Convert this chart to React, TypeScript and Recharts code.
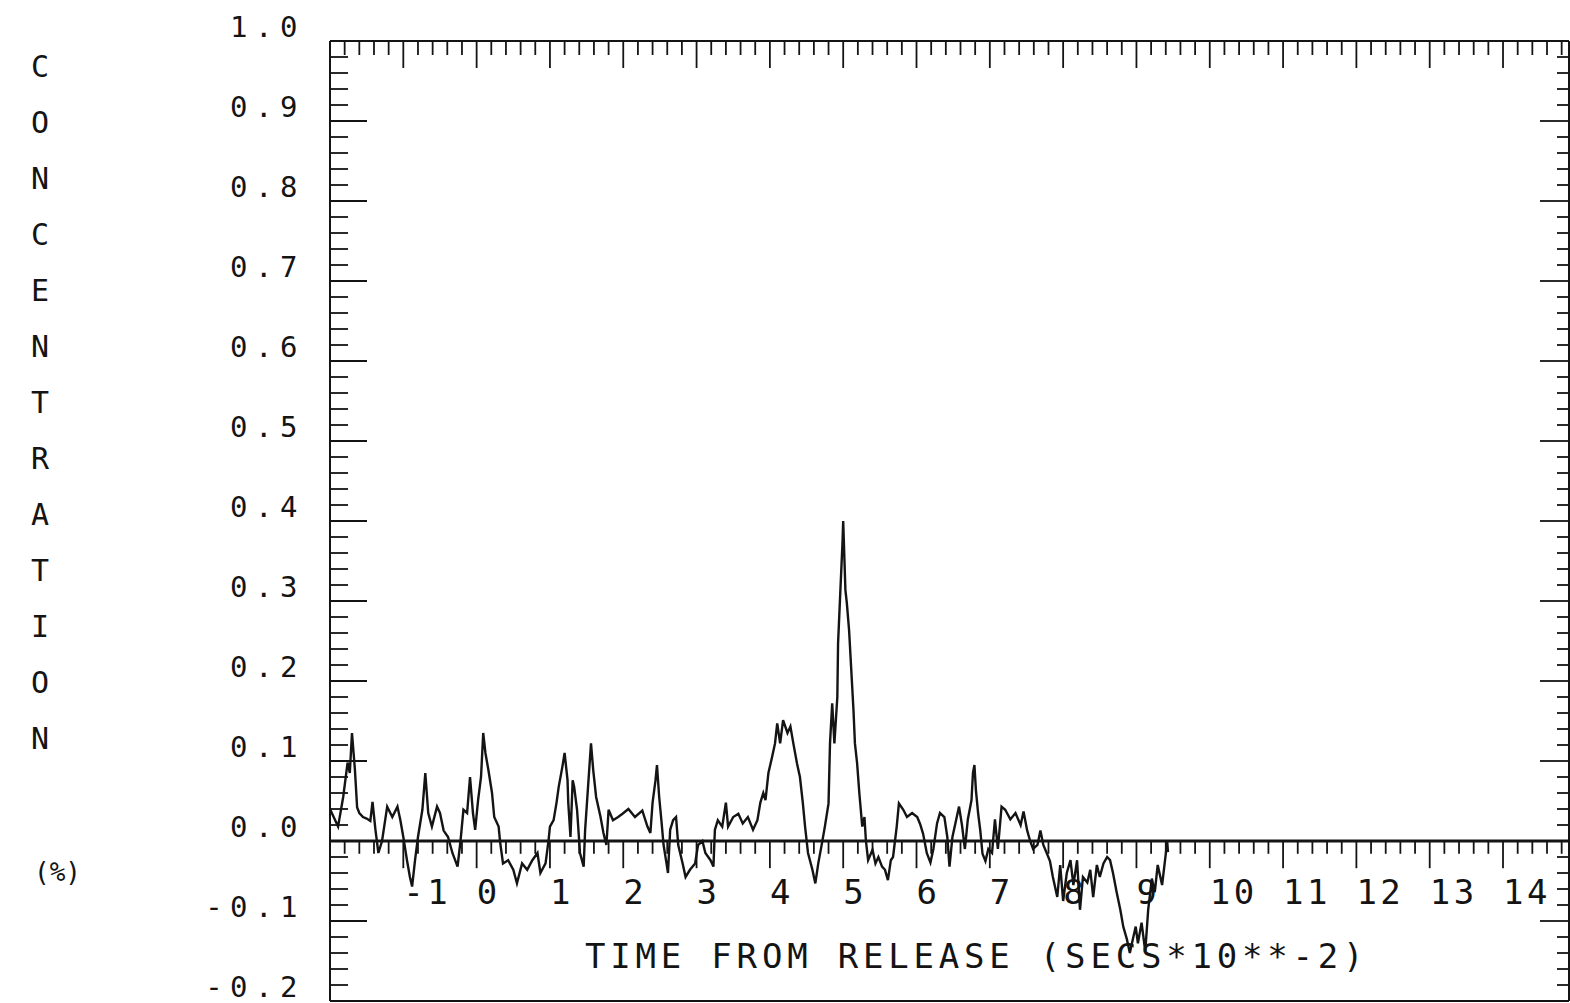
import { LineChart, Line, XAxis, YAxis, ReferenceLine } from 'recharts'

const INK = '#141414'
const FONT = "'DejaVu Sans Mono', 'Liberation Mono', monospace"

// time from release (secs*10**-2)
const TIME = [
  -2.0, -1.95, -1.89, -1.82, -1.76, -1.73, -1.7, -1.66, -1.63, -1.6,
  -1.55, -1.5, -1.45, -1.42, -1.38, -1.34, -1.29, -1.22, -1.15, -1.08,
  -1.04, -1.0, -0.95, -0.91, -0.88, -0.84, -0.8, -0.74, -0.7, -0.66,
  -0.61, -0.54, -0.5, -0.45, -0.39, -0.33, -0.26, -0.22, -0.18, -0.13,
  -0.09, -0.05, -0.02, 0.02, 0.06, 0.09, 0.12, 0.16, 0.21, 0.24,
  0.3, 0.32, 0.36, 0.43, 0.5, 0.55, 0.62, 0.69, 0.76, 0.83,
  0.87, 0.94, 0.98, 1.0, 1.05, 1.09, 1.12, 1.17, 1.2, 1.24,
  1.25, 1.28, 1.31, 1.33, 1.37, 1.41, 1.46, 1.48, 1.52, 1.56,
  1.59, 1.63, 1.69, 1.73, 1.77, 1.8, 1.86, 1.93, 1.99, 2.07,
  2.16, 2.26, 2.33, 2.37, 2.4, 2.44, 2.46, 2.49, 2.52, 2.55,
  2.59, 2.61, 2.64, 2.68, 2.72, 2.75, 2.81, 2.85, 2.91, 2.98,
  3.02, 3.08, 3.12, 3.19, 3.23, 3.25, 3.29, 3.35, 3.4, 3.43,
  3.5, 3.57, 3.63, 3.7, 3.77, 3.83, 3.87, 3.91, 3.94, 3.98,
  4.03, 4.07, 4.1, 4.14, 4.18, 4.24, 4.28, 4.32, 4.37, 4.41,
  4.45, 4.48, 4.52, 4.58, 4.62, 4.66, 4.71, 4.75, 4.8, 4.82,
  4.85, 4.88, 4.92, 4.93, 4.96, 4.99, 5.0, 5.03, 5.05, 5.08,
  5.11, 5.14, 5.16, 5.19, 5.22, 5.26, 5.29, 5.31, 5.34, 5.4,
  5.44, 5.48, 5.53, 5.57, 5.61, 5.65, 5.68, 5.73, 5.76, 5.82,
  5.87, 5.94, 6.01, 6.05, 6.09, 6.14, 6.19, 6.23, 6.28, 6.32,
  6.38, 6.42, 6.45, 6.49, 6.53, 6.58, 6.62, 6.66, 6.7, 6.75,
  6.77, 6.79, 6.81, 6.84, 6.87, 6.9, 6.94, 6.98, 7.03, 7.07,
  7.11, 7.16, 7.21, 7.28, 7.35, 7.42, 7.46, 7.51, 7.55, 7.59,
  7.65, 7.69, 7.73, 7.78, 7.82, 7.86, 7.92, 7.96, 8.0, 8.05,
  8.1, 8.14, 8.19, 8.23, 8.27, 8.33, 8.37, 8.41, 8.46, 8.5,
  8.55, 8.6, 8.64, 8.68, 8.73, 8.78, 8.82, 8.87, 8.91, 8.95,
  8.99, 9.02, 9.07, 9.12, 9.16, 9.21, 9.25, 9.29, 9.35, 9.39,
  9.42, 9.43,
]

// concentration (%), same order as TIME
const CONC = [
  0.04, 0.03, 0.018, 0.055, 0.098, 0.085, 0.135, 0.089, 0.042, 0.035,
  0.03, 0.028, 0.025, 0.049, 0.014, -0.015, 0.0, 0.043, 0.03, 0.043,
  0.026, 0.005, -0.024, -0.045, -0.057, -0.024, 0.005, 0.039, 0.085, 0.035,
  0.018, 0.043, 0.035, 0.013, 0.005, -0.015, -0.032, 0.0, 0.039, 0.035,
  0.08, 0.035, 0.014, 0.051, 0.08, 0.135, 0.11, 0.089, 0.06, 0.03,
  0.018, -0.001, -0.028, -0.024, -0.036, -0.053, -0.028, -0.036, -0.024, -0.015,
  -0.04, -0.028, 0.0, 0.018, 0.026, 0.048, 0.068, 0.093, 0.11, 0.076,
  0.048, 0.005, 0.076, 0.068, 0.039, -0.015, -0.032, 0.014, 0.068, 0.122,
  0.089, 0.055, 0.03, 0.01, -0.005, 0.039, 0.026, 0.03, 0.034, 0.04,
  0.03, 0.038, 0.018, 0.01, 0.048, 0.076, 0.095, 0.055, 0.026, -0.005,
  -0.028, -0.04, 0.014, 0.026, 0.03, -0.005, -0.028, -0.045, -0.036, -0.028,
  -0.005, 0.0, -0.015, -0.024, -0.032, 0.014, 0.026, 0.018, 0.048, 0.018,
  0.03, 0.034, 0.022, 0.03, 0.014, 0.026, 0.048, 0.06, 0.051, 0.085,
  0.105, 0.122, 0.147, 0.122, 0.151, 0.135, 0.143, 0.122, 0.097, 0.08,
  0.047, 0.018, -0.015, -0.036, -0.053, -0.028, -0.003, 0.018, 0.047, 0.122,
  0.172, 0.122, 0.18, 0.247, 0.31, 0.372, 0.4, 0.314, 0.297, 0.264,
  0.214, 0.164, 0.122, 0.097, 0.06, 0.018, 0.03, 0.0, -0.024, -0.011,
  -0.028, -0.02, -0.032, -0.036, -0.049, -0.024, -0.02, 0.018, 0.047, 0.039,
  0.03, 0.035, 0.03, 0.021, 0.009, -0.015, -0.027, -0.01, 0.022, 0.035,
  0.03, 0.005, -0.032, 0.005, 0.022, 0.043, 0.02, -0.01, 0.027, 0.051,
  0.085, 0.095, 0.064, 0.035, 0.013, -0.016, -0.025, -0.01, -0.015, 0.027,
  -0.01, 0.043, 0.039, 0.027, 0.035, 0.02, 0.037, 0.013, 0.0, -0.01,
  -0.005, 0.013, -0.005, -0.016, -0.025, -0.045, -0.07, -0.03, -0.075, -0.04,
  -0.024, -0.055, -0.024, -0.086, -0.045, -0.052, -0.036, -0.07, -0.03, -0.045,
  -0.028, -0.02, -0.024, -0.04, -0.064, -0.086, -0.107, -0.123, -0.14, -0.123,
  -0.107, -0.128, -0.102, -0.138, -0.086, -0.047, -0.064, -0.03, -0.055, -0.024,
  -0.001, -0.014,
]

const X_LABELS = [-1, 0, 1, 2, 3, 4, 5, 6, 7, 8, 9, 10, 11, 12, 13, 14]
const Y_TITLE = ['C', 'O', 'N', 'C', 'E', 'N', 'T', 'R', 'A', 'T', 'I', 'O', 'N']
const Y_UNIT = '(%)'
const X_TITLE = 'TIME FROM RELEASE (SECS*10**-2)'

const X_DOMAIN: [number, number] = [-2, 14.9]
const Y_DOMAIN: [number, number] = [-0.2, 1.0]

// minor ticks every 0.2 on the time axis, every 0.02 on the concentration axis
const X_TICKS = Array.from({ length: 85 }, (_, i) => Math.round((i - 10) * 2) / 10)
const ZERO_TICKS = X_TICKS.filter((v) => v > -2)
const Y_TICKS = Array.from({ length: 61 }, (_, i) => Math.round(i * 2 - 20) / 100)

const data = TIME.map((t, i) => ({ t, c: CONC[i] }))

const isWhole = (v: number, step: number) => Math.abs(v / step - Math.round(v / step)) < 1e-6

function TopTick(props: any) {
  const { x, y, payload } = props
  const major = isWhole(payload.value, 1)
  return <line x1={x} x2={x} y1={y} y2={y + (major ? 27 : 14)} stroke={INK} strokeWidth={1.8} />
}

function LeftTick(props: any) {
  const { x, y, payload } = props
  const major = isWhole(payload.value, 0.1)
  return (
    <g>
      <line x1={x} x2={x + (major ? 37 : 18)} y1={y} y2={y} stroke={INK} strokeWidth={1.8} />
      {major && (
        <text
          x={x - 25}
          y={y - 4}
          textAnchor="end"
          fontFamily={FONT}
          fontSize={29}
          letterSpacing={7.5}
          fill={INK}
        >
          {payload.value.toFixed(1)}
        </text>
      )}
    </g>
  )
}

function RightTick(props: any) {
  const { x, y, payload } = props
  const major = isWhole(payload.value, 0.1)
  return <line x1={x} x2={x - (major ? 29 : 12)} y1={y} y2={y} stroke={INK} strokeWidth={1.8} />
}

export default function App() {
  return (
    <div style={{ position: 'absolute', left: 0, top: 0, width: 1570, height: 1003, background: '#fff' }}>
      <LineChart width={1570} height={1003} data={data} margin={{ top: 40, right: 0, bottom: 1, left: 329 }}>
        <XAxis
          xAxisId="top"
          dataKey="t"
          type="number"
          orientation="top"
          domain={X_DOMAIN}
          allowDataOverflow
          ticks={X_TICKS}
          interval={0}
          height={1}
          tickSize={0}
          tickMargin={0}
          tickLine={false}
          tick={<TopTick />}
          axisLine={{ stroke: INK, strokeWidth: 2 }}
        />
        <XAxis
          xAxisId="bottom"
          type="number"
          orientation="bottom"
          domain={X_DOMAIN}
          allowDataOverflow
          height={1}
          tick={false}
          tickLine={false}
          axisLine={{ stroke: INK, strokeWidth: 2 }}
        />
        <YAxis
          yAxisId="left"
          type="number"
          domain={Y_DOMAIN}
          allowDataOverflow
          ticks={Y_TICKS}
          interval={0}
          width={1}
          tickSize={0}
          tickMargin={0}
          tickLine={false}
          tick={<LeftTick />}
          axisLine={{ stroke: INK, strokeWidth: 2 }}
        />
        <YAxis
          yAxisId="right"
          type="number"
          orientation="right"
          domain={Y_DOMAIN}
          allowDataOverflow
          ticks={Y_TICKS}
          interval={0}
          width={1}
          tickSize={0}
          tickMargin={0}
          tickLine={false}
          tick={<RightTick />}
          axisLine={{ stroke: INK, strokeWidth: 2 }}
        />
        <ReferenceLine xAxisId="top" yAxisId="left" y={0} stroke={INK} strokeWidth={2.8} />
        {ZERO_TICKS.map((v) => {
          const major = isWhole(v, 1)
          return (
            <ReferenceLine
              key={v}
              xAxisId="top"
              yAxisId="left"
              segment={[
                { x: v, y: 0 },
                { x: v, y: major ? -0.034 : -0.016 },
              ]}
              stroke={INK}
              strokeWidth={1.8}
              label={
                major && X_LABELS.includes(v)
                  ? (p: any) => (
                      <text
                        x={p.viewBox.x}
                        y={p.viewBox.y + 63}
                        fontFamily={FONT}
                        fontSize={34}
                        letterSpacing={3.5}
                        fill={INK}
                      >
                        {String(v)}
                      </text>
                    )
                  : undefined
              }
            />
          )
        })}
        <Line
          xAxisId="top"
          yAxisId="left"
          type="linear"
          dataKey="c"
          stroke={INK}
          strokeWidth={2.4}
          dot={false}
          isAnimationActive={false}
        />
      </LineChart>
      <svg
        width={1570}
        height={1003}
        style={{ position: 'absolute', left: 0, top: 0, pointerEvents: 'none' }}
      >
        <text fontFamily={FONT} fontSize={30} fill={INK}>
          {Y_TITLE.map((ch, i) => (
            <tspan key={i} x={31} y={77 + i * 56}>
              {ch}
            </tspan>
          ))}
        </text>
        <text x={34} y={881} fontFamily={FONT} fontSize={26} fill={INK}>
          {Y_UNIT}
        </text>
        <text x={585} y={968} fontFamily={FONT} fontSize={34} letterSpacing={4.8} fill={INK}>
          {X_TITLE}
        </text>
      </svg>
    </div>
  )
}
